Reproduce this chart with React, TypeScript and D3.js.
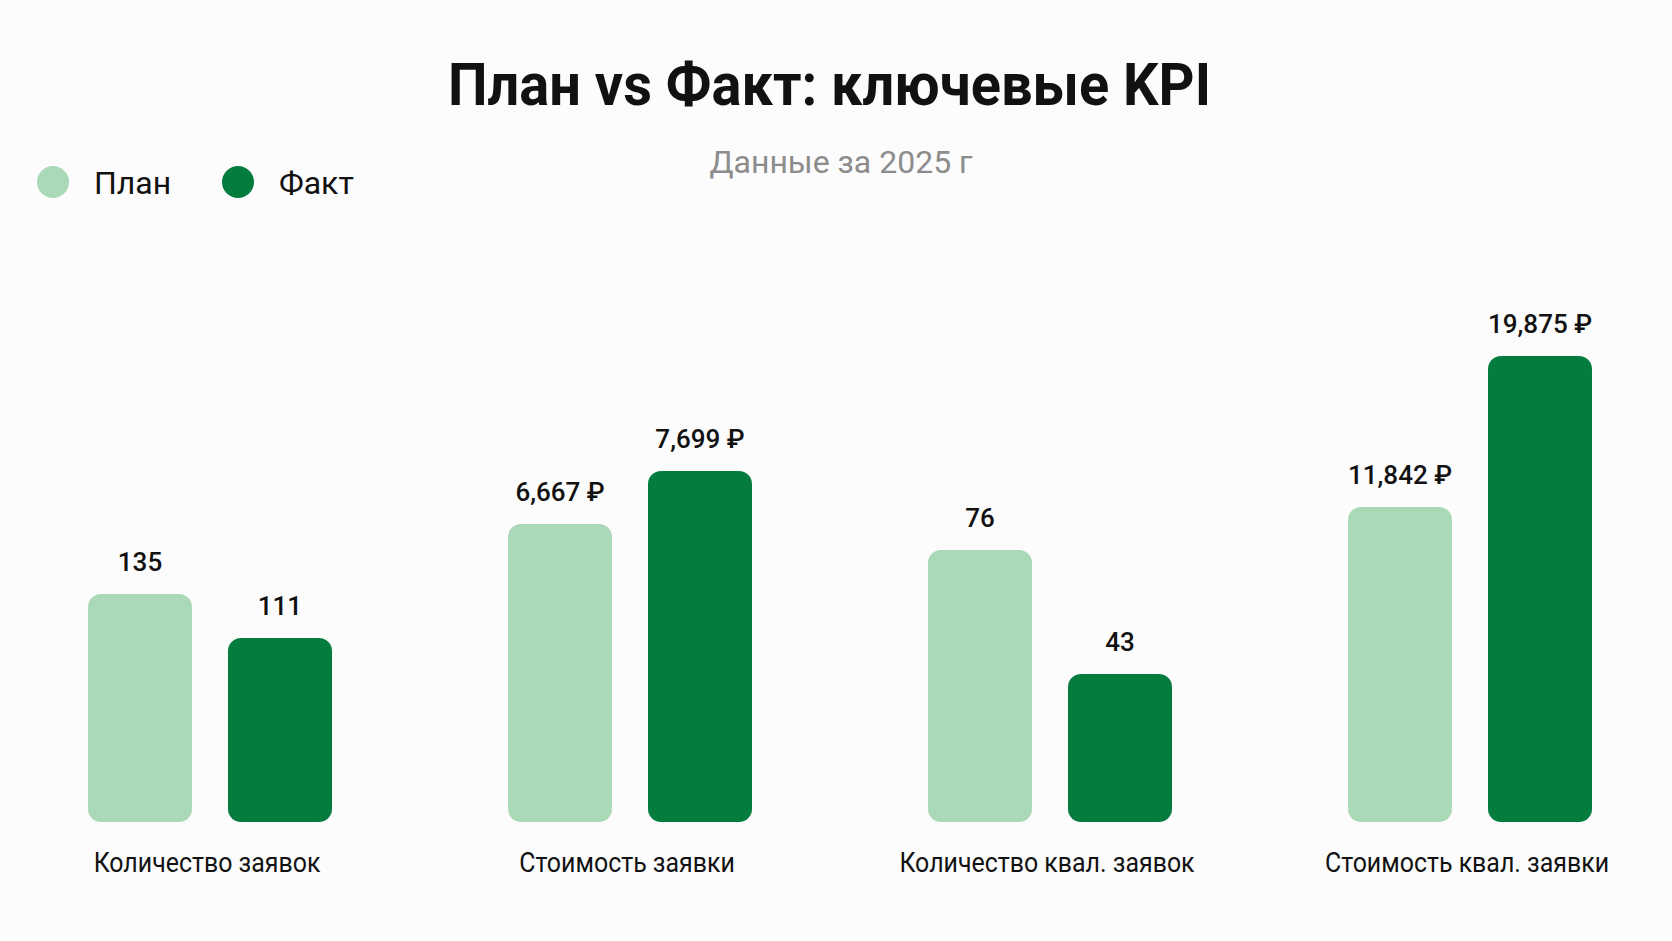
import React from 'react'
import * as d3 from 'd3'

// KPI categories and values
const categories = ['Количество заявок', 'Стоимость заявки', 'Количество квал. заявок', 'Стоимость квал. заявки']
const planValues = [135, 6667, 76, 11842]
const factValues = [111, 7699, 43, 19875]
const valueUnits = ['', ' ₽', '', ' ₽']
// every KPI has its own hidden y axis
const axisMin = [10.6, 865, 3.6, -4916]
const axisMax = [264.8, 9938, 127.6, 19875]
const seriesNames = ['План', 'Факт']

const width = 1672
const height = 941
const baseline = 822
const topY = 356
const planColor = '#a9d9b7'
const factColor = '#037c3e'
const font = 'Roboto, "Noto Sans", sans-serif'

const App: React.FC = () => {
  const x0 = d3.scaleBand<string>().domain(categories).range([0, 1680])
  const x1 = d3.scaleBand<string>().domain(seriesNames).range([0, 244]).paddingInner(0.257)
  const fmt = d3.format(',')

  const yScales = categories.map((_, i) =>
    d3.scaleLinear().domain([axisMin[i], axisMax[i]]).range([baseline, topY])
  )

  return (
    <svg
      width={width}
      height={height}
      style={{ position: 'absolute', left: 0, top: 0, background: '#fcfcfc' }}
    >
      <rect width={width} height={height} fill="#fcfcfc" />
      {/* title */}
      <text
        x={829.5}
        y={105}
        textAnchor="middle"
        fontFamily={font}
        fontWeight={700}
        fontSize={60}
        fill="#111"
        textLength={763}
        lengthAdjust="spacingAndGlyphs"
      >
        План vs Факт: ключевые KPI
      </text>
      <text
        x={841}
        y={173}
        textAnchor="middle"
        fontFamily={font}
        fontSize={32}
        fill="#8c8c8c"
      >
        Данные за 2025 г
      </text>

      {/* legend */}
      {seriesNames.map((name, i) => (
        <g key={name} transform={`translate(${i === 0 ? 53 : 238}, 182)`}>
          <circle r={16} fill={i === 0 ? planColor : factColor} />
          <text x={41} y={12} fontFamily={font} fontSize={32} fill="#111">
            {name}
          </text>
        </g>
      ))}

      {/* bars */}
      {categories.map((cat, i) => {
        const cx = (x0(cat) ?? 0) + x0.bandwidth() / 2
        const gx = cx - 122
        const vals = [planValues[i], factValues[i]]
        const y = yScales[i]
        return (
          <g key={cat}>
            {vals.map((v, j) => {
              const bx = gx + (x1(seriesNames[j]) ?? 0)
              const by = y(v)
              return (
                <g key={j}>
                  <rect
                    x={bx}
                    y={by}
                    width={x1.bandwidth()}
                    height={baseline - by}
                    rx={13}
                    fill={j === 0 ? planColor : factColor}
                  />
                  <text
                    x={bx + x1.bandwidth() / 2}
                    y={by - 23}
                    textAnchor="middle"
                    fontFamily={font}
                    fontWeight={500}
                    fontSize={26}
                    fill="#111"
                  >
                    {fmt(v) + valueUnits[i]}
                  </text>
                </g>
              )
            })}
            {/* category label, slightly narrowed like the original font */}
            <text
              transform={`translate(${cx - 3}, 872) scale(0.89, 1)`}
              textAnchor="middle"
              fontFamily={font}
              fontSize={28}
              fill="#111"
            >
              {cat}
            </text>
          </g>
        )
      })}
    </svg>
  )
}

export default App
